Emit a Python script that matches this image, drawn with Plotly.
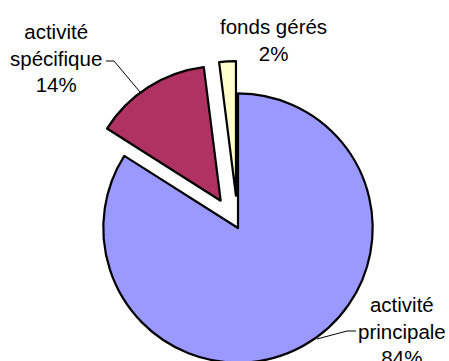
import plotly.graph_objects as go

# Répartition de l'activité
labels = ["activité principale", "activité spécifique", "fonds gérés"]
label_text = ["activité<br>principale", "activité<br>spécifique", "fonds gérés"]
values = [84, 14, 2]
pulls = [0, 0.24, 0.24]
colors = ["#9999FF", "#B03262", "#FFFFCC"]

W, H = 449, 400          # canvas is taller than the window; the bottom is clipped
cx, cy = 238, 228        # pie centre in pixels
half = 167               # half size of the pie box (radius * (1 + max pull))

total = sum(values)
pcts = [round(v * 100 / total) for v in values]

fig = go.Figure(
    go.Pie(
        labels=labels,
        values=values,
        sort=False,
        direction="clockwise",
        rotation=0,
        pull=pulls,
        marker=dict(colors=colors, line=dict(color="black", width=2.2)),
        textinfo="none",
        hoverinfo="label+percent",
        domain=dict(
            x=[(cx - 200) / W, (cx + 200) / W],
            y=[1 - (cy + half) / H, 1 - (cy - half) / H],
        ),
    )
)

def px(x, y):
    return x / W, 1 - y / H

# label anchor points (pixels)
label_pos = [(402, 331), (56, 58), (273, 40)]
annotations = []
for txt, p, (lx, ly) in zip(label_text, pcts, label_pos):
    x, y = px(lx, ly)
    annotations.append(dict(
        text=f"{txt}<br>{p}%", x=x, y=y, xref="paper", yref="paper",
        xanchor="center", yanchor="middle", showarrow=False, align="center",
        font=dict(family="Liberation Sans, Arial, sans-serif", size=20.5, color="black"),
    ))

def leader(points):
    d = ""
    for i, (x, y) in enumerate(points):
        a, b = px(x, y)
        d += ("M" if i == 0 else " L") + f" {a:.5f} {b:.5f}"
    return dict(type="path", path=d, xref="paper", yref="paper",
                line=dict(color="black", width=1))

shapes = [
    leader([(106, 61), (114, 61), (140, 92)]),
    leader([(356, 331), (347, 331), (317, 339)]),
]

fig.update_layout(
    width=W, height=H,
    margin=dict(l=0, r=0, t=0, b=0),
    paper_bgcolor="white", plot_bgcolor="white",
    showlegend=False,
    annotations=annotations,
    shapes=shapes,
)

fig.write_html("out.html", post_script="document.body.style.overflow='hidden';document.documentElement.style.overflow='hidden';")
